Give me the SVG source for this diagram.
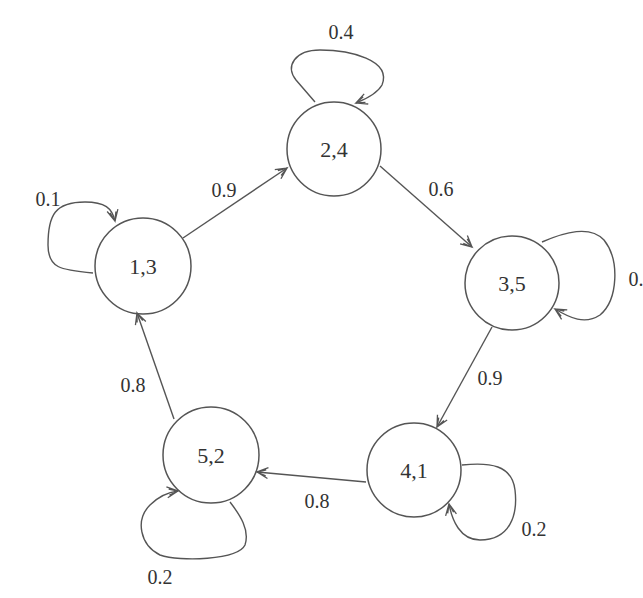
<svg xmlns="http://www.w3.org/2000/svg" width="643" height="598" viewBox="0 0 643 598">
<style>
.node circle{fill:none;stroke:#555;stroke-width:1.5}
.node text{font-family:"Liberation Serif",serif;font-size:22px;fill:#333;text-anchor:middle}
.edge{fill:none;stroke:#555;stroke-width:1.4;marker-end:url(#arr)}
.lbl{font-family:"Liberation Serif",serif;font-size:20px;fill:#333;text-anchor:middle}
</style>
<defs>
<marker id="arr" markerUnits="userSpaceOnUse" markerWidth="16" markerHeight="14" refX="12" refY="7" orient="auto">
<path d="M1,1.5 L12,7 L1,12.5 M3,4 L12,7 L3,10" fill="none" stroke="#555" stroke-width="1.3"/>
</marker>
</defs>
<rect width="643" height="598" fill="#fff"/>
<g id="connectors">
<path class="edge" d="M183,238 L287,168"/>
<path class="edge" d="M380,166 L472,247"/>
<path class="edge" d="M492,327 L437,427"/>
<path class="edge" d="M366,482 L257,472"/>
<path class="edge" d="M174,419 L137,313"/>
<path class="edge" d="M315,102 L296,80 C285,66 295,50 320,50 C350,50 392,60 382,85 C377,94 366,99 356,103"/>
<path class="edge" d="M93,273 C60,270 48,268 48,245 C48,215 55,202 85,202 C105,202 112,208 115,221"/>
<path class="edge" d="M542,242 C565,232 590,225 604,240 C620,260 618,300 600,315 C585,325 570,318 555,309"/>
<path class="edge" d="M462,465 C490,462 512,465 515,490 C518,515 510,540 480,540 C460,540 452,520 449,504"/>
<path class="edge" d="M230,502 C240,515 250,530 245,545 C238,560 180,562 160,555 C140,545 135,520 150,505 C160,495 170,492 178,491"/>
</g>
<g id="n13" class="node"><circle cx="143" cy="266" r="48"/><text x="143" y="274">1,3</text></g>
<g id="n24" class="node"><circle cx="334" cy="149" r="47"/><text x="334" y="157">2,4</text></g>
<g id="n35" class="node"><circle cx="512" cy="283" r="47"/><text x="512" y="291">3,5</text></g>
<g id="n41" class="node"><circle cx="414" cy="470" r="47"/><text x="414" y="478">4,1</text></g>
<g id="n52" class="node"><circle cx="211" cy="455" r="48"/><text x="211" y="463">5,2</text></g>
<g id="labels">
<text class="lbl" x="341" y="39">0.4</text>
<text class="lbl" x="48" y="206">0.1</text>
<text class="lbl" x="224" y="197">0.9</text>
<text class="lbl" x="441" y="196">0.6</text>
<text class="lbl" x="636" y="286">0.</text>
<text class="lbl" x="490" y="385">0.9</text>
<text class="lbl" x="133" y="392">0.8</text>
<text class="lbl" x="317" y="508">0.8</text>
<text class="lbl" x="534" y="536">0.2</text>
<text class="lbl" x="160" y="584">0.2</text>
</g>
</svg>
